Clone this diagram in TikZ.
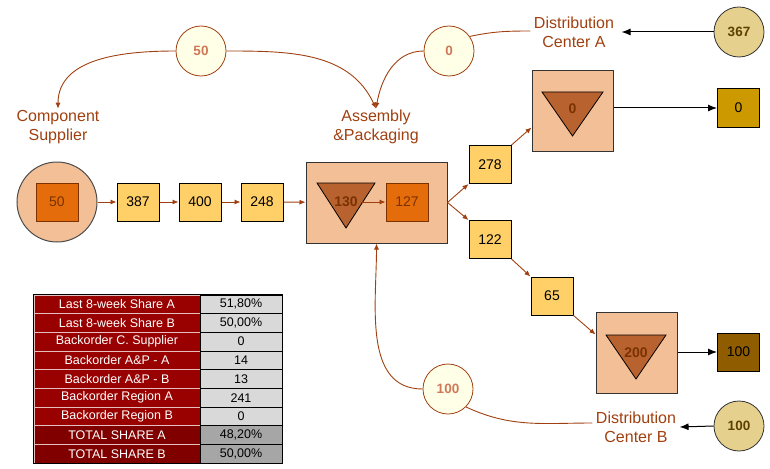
\documentclass[tikz,border=0pt]{standalone}
\usepackage{fontspec}
\setmainfont{Liberation Sans}
\usepackage{xcolor}
\usepackage{tikz}
\usetikzlibrary{arrows.meta}
\definecolor{peach}{RGB}{242,191,150}
\definecolor{pipeyellow}{RGB}{255,208,104}
\definecolor{wiporange}{RGB}{228,108,10}
\definecolor{tribrown}{RGB}{184,98,48}
\definecolor{flowbrown}{RGB}{160,64,16}
\definecolor{numbrown}{RGB}{122,50,0}
\definecolor{ordercream}{RGB}{255,255,232}
\definecolor{ordertext}{RGB}{208,120,88}
\definecolor{demandtan}{RGB}{230,208,142}
\definecolor{demandtext}{RGB}{92,64,0}
\definecolor{goldbox}{RGB}{204,153,0}
\definecolor{darkgold}{RGB}{143,92,0}
\definecolor{tabred}{RGB}{153,0,0}
\definecolor{tabdark}{RGB}{128,0,0}
\definecolor{tabgray}{RGB}{217,217,217}
\definecolor{tabmid}{RGB}{166,166,166}
\tikzset{
  flow/.style={draw=flowbrown,line width=0.9pt,-{Latex[length=6pt,width=5pt]}},
  ship/.style={draw=black,line width=1pt,-{Latex[length=9pt,width=7pt]}},
  pipebox/.style={draw=black,fill=pipeyellow,line width=1pt,minimum width=42pt,minimum height=38pt,inner sep=0pt,font=\fontsize{14}{16}\selectfont},
  wipbox/.style={pipebox,draw=numbrown,fill=wiporange,text=numbrown},
  sitebox/.style={draw=black!80,fill=peach,line width=1pt,inner sep=0pt},
  tri/.style={draw=black,fill=tribrown,line width=0.8pt},
  trilabel/.style={text=numbrown,font=\bfseries\fontsize{14}{16}\selectfont},
  ordercircle/.style={circle,draw=flowbrown,fill=ordercream,text=ordertext,line width=0.8pt,minimum size=50pt,inner sep=0pt,font=\bfseries\fontsize{13.5}{15}\selectfont},
  demandcircle/.style={ordercircle,draw=black!80,fill=demandtan,text=demandtext},
  sitelabel/.style={text=flowbrown,align=center,font=\fontsize{16}{19}\selectfont},
  labcell/.style={draw=white!75!tabred,line width=0.5pt,text=white,minimum width=166pt,minimum height=18.67pt,inner sep=0pt,font=\fontsize{12.5}{14}\selectfont},
  valcell/.style={labcell,draw=black,text=black,minimum width=82pt}
}

\begin{document}
\begin{tikzpicture}[x=1pt,y=1pt]
		\useasboundingbox (0,0) rectangle (770,-468);
		%
		\node[sitelabel] (cslabel) at (58,-127) {Component\\Supplier};
		\node[sitelabel] (aplabel) at (376,-127) {Assembly\\\&Packaging};
		\node[sitelabel] (dcalabel) at (574,-32) {Distribution\\Center A};
		\node[sitelabel] (dcblabel) at (636,-427) {Distribution\\Center B};
		%
		\node[ordercircle] (c50) at (201,-51) {50};
		\node[ordercircle] (c0) at (449,-51) {0};
		\node[ordercircle] (c100) at (448,-389) {100};
		\node[demandcircle] (c367) at (739,-32) {367};
		\node[demandcircle] (cdem) at (739,-426) {100};
		%
		\node[circle,draw=black!70,fill=peach,line width=1pt,minimum size=80pt] (cs) at (57,-202) {};
		\node[wipbox] (w50) at (57,-202) {50};
		\node[pipebox] (b387) at (138,-202) {387};
		\node[pipebox] (b400) at (200,-202) {400};
		\node[pipebox] (b248) at (262,-202) {248};
		%
		\node[sitebox,minimum width=141pt,minimum height=81pt] (ap) at (376.5,-202.5) {};
		\draw[tri] (317,-183) -- (375,-183) -- (346,-228) -- cycle;
		\node[trilabel] (t130) at (346,-202) {130};
		\node[wipbox] (w127) at (407,-202) {127};
		%
		\node[pipebox] (b278) at (490,-164.5) {278};
		\node[pipebox] (b122) at (490,-239.5) {122};
		\node[pipebox] (b65) at (552,-296) {65};
		%
		\node[sitebox,minimum width=81pt,minimum height=80pt] (dca) at (572.5,-111) {};
		\draw[tri] (542,-92) -- (603,-92) -- (572.5,-136) -- cycle;
		\node[trilabel] (t0) at (572.5,-109) {0};
		\node[sitebox,minimum width=81pt,minimum height=81pt] (dcb) at (636.5,-352.5) {};
		\draw[tri] (606,-335) -- (666,-335) -- (636,-379) -- cycle;
		\node[trilabel] (t200) at (636,-353) {200};
		%
		\node[pipebox,fill=goldbox] (b0) at (738.5,-108) {0};
		\node[pipebox,fill=darkgold] (b100) at (738.5,-352) {100};
		%
		\draw[flow] (cs) -- (b387);
		\draw[flow] (b387) -- (b400);
		\draw[flow] (b400) -- (b248);
		\draw[flow] (b248) -- (ap);
		\draw[flow] (t130.east) -- (w127);
		\draw[flow] (ap.east) -- (b278.south west);
		\draw[flow] (ap.east) -- (b122.north west);
		\draw[flow] (b278.north east) -- ([yshift=24pt]dca.south west);
		\draw[flow] (b122.south east) -- (b65.north west);
		\draw[flow] (b65.south east) -- ([yshift=-23pt]dcb.north west);
		%
		\draw[ship] (dca.east |- b0.west) -- (b0.west);
		\draw[ship] (dcb.east |- b100.west) -- (b100.west);
		\draw[ship] (c367.west) -- ([xshift=4pt]dcalabel.east);
		\draw[ship] (cdem.west) -- (dcblabel.east);
		%
		\draw[flow] (c50.west) to[out=180,in=90] ([yshift=-2pt]cslabel.north);
		\draw[flow] (c50.east) to[out=0,in=115] ([yshift=-2pt]aplabel.north);
		\draw[flow] (c0.west) to[out=180,in=80] ([yshift=-2pt]aplabel.north);
		\draw[flow] (c100.west) to[out=180,in=-90] (ap.south);
		\draw[flowbrown,line width=0.9pt] (c0.35) to[out=12,in=180] ([yshift=1pt]dcalabel.west);
		\draw[flowbrown,line width=0.9pt] (c100.-45) to[out=-25,in=180] ([yshift=4pt]dcblabel.west);
		%
		\foreach \lab/\val/\lc/\vc [count=\i] in {
			Last 8-week Share A/{51,80\%}/tabred/tabgray,
			Last 8-week Share B/{50,00\%}/tabred/tabgray,
			Backorder C. Supplier/0/tabred/tabgray,
			Backorder A\&P - A/14/tabred/tabgray,
			Backorder A\&P - B/13/tabred/tabgray,
			Backorder Region A/241/tabred/tabgray,
			Backorder Region B/0/tabred/tabgray,
			TOTAL SHARE A/{48,20\%}/tabdark/tabmid,
			TOTAL SHARE B/{50,00\%}/tabdark/tabmid}
		{
			\node[labcell,fill=\lc] (lab\i) at (117,{-285.67-18.67*\i}) {\lab};
			\node[valcell,fill=\vc] (val\i) at (241,{-285.67-18.67*\i}) {\val};
		}
		\draw[black,line width=0.8pt] (lab1.north west) rectangle (val9.south east);
	\end{tikzpicture}
\end{document}
